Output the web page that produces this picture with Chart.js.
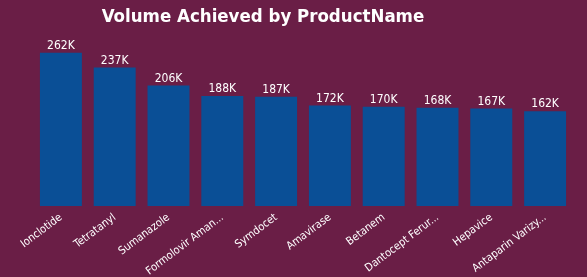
<!DOCTYPE html>
<html>
<head>
<meta charset="utf-8">
<script src="https://cdn.jsdelivr.net/npm/chart.js@4"></script>
<style>
html,body{margin:0;padding:0;background:#6A1E46;}
#wrap{width:587px;height:277px;}
</style>
</head>
<body>
<div id="wrap"><canvas id="c" width="587" height="277"></canvas></div>
<script>
const chartTitle = "Volume Achieved by ProductName";
const categories = ["Ionclotide","Tetratanyl","Sumanazole","Formolovir Aman...","Symdocet","Amavirase","Betanem","Dantocept Ferur...","Hepavice","Antaparin Varizy..."];
const volumes = [262000,237000,206000,188000,187000,172000,170000,168000,167000,162000];
const valueLabels = ["262K","237K","206K","188K","187K","172K","170K","168K","167K","162K"];

const bgPlugin = {
  id:'bg',
  beforeDraw(chart){
    const ctx = chart.ctx;
    ctx.save();
    ctx.fillStyle = '#6A1E46';
    ctx.fillRect(0,0,chart.width,chart.height);
    ctx.fillStyle = '#FFFFFF';
    ctx.font = 'bold 18.5px "DejaVu Sans Condensed", "DejaVu Sans"';
    ctx.textAlign = 'center';
    ctx.textBaseline = 'middle';
    ctx.fillText(chartTitle, 263, 17);
    ctx.restore();
  }
};
const labelPlugin = {
  id:'vals',
  afterDatasetsDraw(chart){
    const ctx = chart.ctx;
    const meta = chart.getDatasetMeta(0);
    ctx.save();
    ctx.fillStyle = '#FFFFFF';
    ctx.font = '12px "DejaVu Sans Condensed", "DejaVu Sans"';
    ctx.textAlign = 'center';
    ctx.textBaseline = 'bottom';
    meta.data.forEach((bar,i)=>{
      ctx.fillText(valueLabels[i], bar.x, bar.y - 1);
    });
    ctx.restore();
  }
};

new Chart(document.getElementById('c'), {
  type:'bar',
  data:{
    labels: categories,
    datasets:[{
      data: volumes,
      backgroundColor:'#0A4F96',
      borderWidth:0,
      categoryPercentage:0.78,
      barPercentage:1.0
    }]
  },
  options:{
    responsive:false,
    animation:false,
    devicePixelRatio:1,
    layout:{padding:{left:34,right:15,top:40,bottom:0}},
    plugins:{
      legend:{display:false},
      tooltip:{enabled:false},
      title:{display:false}
    },
    scales:{
      x:{
        grid:{display:false,drawTicks:false},
        border:{display:false},
        ticks:{
          color:'#FFFFFF',
          font:{family:'"DejaVu Sans Condensed", "DejaVu Sans"', size:11},
          maxRotation:37,minRotation:37,autoSkip:false,padding:5
        },
        afterFit(scale){ scale.height = 71; }
      },
      y:{
        display:false,
        min:0,max:284000
      }
    }
  },
  plugins:[bgPlugin,labelPlugin]
});
</script>
</body>
</html>
